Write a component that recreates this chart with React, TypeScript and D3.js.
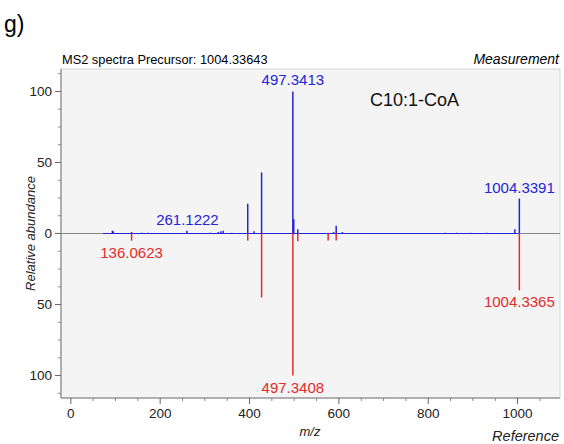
import React from "react";
import * as d3 from "d3";

const measMz = [93, 95, 136, 159, 172, 260, 311, 330, 336, 341, 360, 396, 410, 427, 497, 499, 508, 588, 594, 608, 838, 864, 895, 931, 994, 1004];
const measInt = [2, 1.5, 1, 0.5, 0.5, 2, 0.5, 1, 1.5, 2, 0.5, 21, 1.5, 43, 100, 10, 3, 1, 5.5, 1, 0.5, 0.5, 0.5, 0.5, 3, 24.6];
const refMz = [136, 396, 427, 497, 508, 576, 594, 1004];
const refInt = [5, 5, 45, 100, 5.5, 5, 5, 40];

const measLabels = [
  { mz: 497, int: 100, text: "497.3413" },
  { mz: 261, int: 2, text: "261.1222" },
  { mz: 1004, int: 24.6, text: "1004.3391" },
];
const refLabels = [
  { mz: 136, int: 5, text: "136.0623" },
  { mz: 497, int: 100, text: "497.3408" },
  { mz: 1004, int: 40, text: "1004.3365" },
];

const xTicks = [0, 200, 400, 600, 800, 1000];
const yTicks = [100, 50, 0, -50, -100];

const BLUE = "#2424d8";
const RED = "#e32b2b";
const FONT = "'Liberation Sans', Arial, sans-serif";
const NARROW = "'Liberation Sans Narrow', 'Liberation Sans', Arial, sans-serif";

export default function App() {
  const W = 564, H = 444;
  const left = 61, right = 560, top = 69, bottom = 398;
  const x = d3.scaleLinear().domain([-22, 1095]).range([left, right]);
  const y = d3.scaleLinear().domain([-115.8, 115.8]).range([bottom, top]);
  const minorX = d3.range(0, 1100, 50).filter((v) => v % 200 !== 0);
  const minorY = d3.range(-112.5, 113, 12.5).filter((v) => v % 50 !== 0);

  return (
    <svg width={W} height={H} style={{ position: "absolute", left: 0, top: 0, background: "#fff" }} fontFamily={FONT}>
      <text x={4} y={32} fontSize={23}>g)</text>
      <text x={62} y={64} fontSize={12.8} fontFamily={NARROW}>MS2 spectra Precursor: 1004.33643</text>
      <text x={559} y={64} fontSize={14} fontStyle="italic" textAnchor="end">Measurement</text>

      <rect x={left} y={top} width={right - left} height={bottom - top} fill="#f4f4f4" stroke="#d6d6d6" />
      <line x1={left} x2={left} y1={top} y2={bottom} stroke="#777" />
      <line x1={left} x2={right} y1={bottom} y2={bottom} stroke="#777" />

      {yTicks.map((t) => (
        <g key={"yt" + t}>
          <line x1={left - 6} x2={left} y1={y(t)} y2={y(t)} stroke="#666" />
          <text x={left - 9} y={y(t) + 4.5} fontSize={13.5} textAnchor="end" fill="#222">{Math.abs(t)}</text>
        </g>
      ))}
      {minorY.map((t) => (
        <line key={"ym" + t} x1={left - 3} x2={left} y1={y(t)} y2={y(t)} stroke="#888" />
      ))}
      {xTicks.map((t) => (
        <g key={"xt" + t}>
          <line x1={x(t)} x2={x(t)} y1={bottom} y2={bottom + 6} stroke="#666" />
          <text x={x(t)} y={bottom + 20} fontSize={13.5} textAnchor="middle" fill="#222">{t}</text>
        </g>
      ))}
      {minorX.map((t) => (
        <line key={"xm" + t} x1={x(t)} x2={x(t)} y1={bottom} y2={bottom + 3} stroke="#888" />
      ))}

      <line x1={left} x2={right} y1={y(0)} y2={y(0)} stroke="#8a8a8a" strokeWidth={1.2} />
      <line x1={x(72)} x2={x(1004)} y1={y(0)} y2={y(0)} stroke={BLUE} strokeWidth={1.2} />

      {measMz.map((m, i) => (
        <line key={"m" + i} x1={x(m)} x2={x(m)} y1={y(0)} y2={y(measInt[i])} stroke={BLUE} strokeWidth={1.5} />
      ))}
      {refMz.map((m, i) => (
        <line key={"r" + i} x1={x(m)} x2={x(m)} y1={y(0)} y2={y(-refInt[i])} stroke={RED} strokeWidth={1.5} />
      ))}

      {measLabels.map((l) => (
        <text key={l.text} x={x(l.mz)} y={y(l.int) - 6} fontSize={15} fill={BLUE} textAnchor="middle">{l.text}</text>
      ))}
      {refLabels.map((l) => (
        <text key={l.text} x={x(l.mz)} y={y(-l.int) + 17} fontSize={15} fill={RED} textAnchor="middle">{l.text}</text>
      ))}

      <text x={370} y={106} fontSize={18} fill="#111">C10:1-CoA</text>

      <text transform={`translate(35,${y(0)}) rotate(-90)`} fontSize={13} fontStyle="italic" textAnchor="middle" fill="#222">Relative abundance</text>
      <text x={310} y={436} fontSize={13} fontStyle="italic" textAnchor="middle" fill="#222">m/z</text>
      <text x={559} y={441} fontSize={14.5} fontStyle="italic" textAnchor="end" fill="#222">Reference</text>
    </svg>
  );
}
